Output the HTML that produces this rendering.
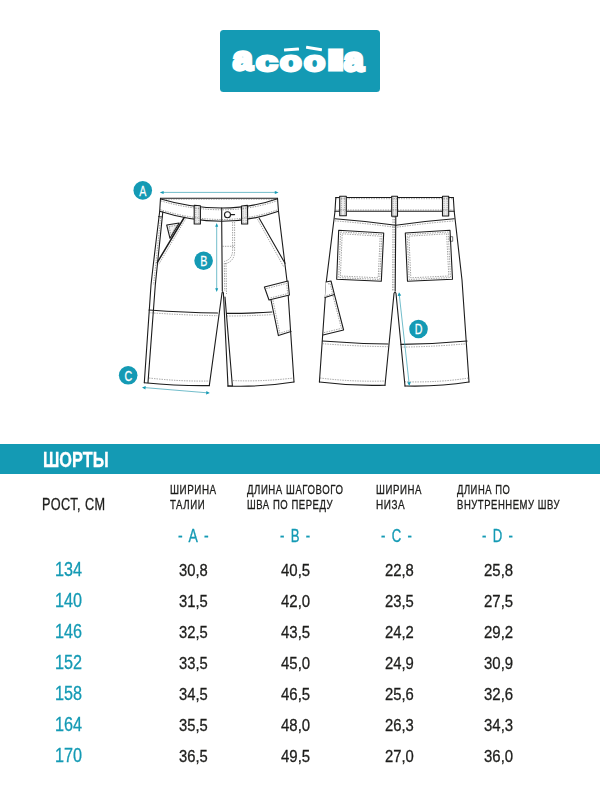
<!DOCTYPE html>
<html lang="ru">
<head>
<meta charset="utf-8">
<title>Шорты — таблица размеров</title>
<style>
html,body{margin:0;padding:0;background:#fff;}
body{width:600px;height:800px;position:relative;overflow:hidden;font-family:"Liberation Sans", sans-serif;color:#1d1d1b;}
.logo{position:absolute;left:220px;top:30px;width:160px;height:62px;background:#149ab4;border-radius:3.5px;}
.lw span{position:absolute;line-height:1;font-weight:700;font-size:33px;color:#fff;-webkit-text-stroke:3.5px #fff;transform-origin:0 0;}
.ac{position:absolute;background:#fff;border-radius:.4px;}
.ac1{left:284.2px;top:48.3px;width:15.3px;height:3.3px;transform:rotate(-3.6deg);}
.ac2{left:306.4px;top:46.7px;width:15.8px;height:3.1px;transform:rotate(9.5deg);}
.bar{position:absolute;left:0;top:444px;width:600px;height:29.5px;background:#149ab4;}
.t{position:absolute;white-space:nowrap;line-height:1;transform-origin:0 0;display:block;-webkit-text-stroke:0.3px currentColor;}
svg{position:absolute;left:0;top:0;}
.txt{position:absolute;left:0;top:0;width:600px;height:800px;will-change:transform;}
</style>
</head>
<body>
<div class="logo"></div><div class="lw"><span style="left:233.47px;top:42.44px;transform:scale(1.067,0.995)">a</span><span style="left:256.10px;top:46.53px;transform:scale(1.174,0.859)">c</span><span style="left:280.40px;top:46.94px;transform:scale(1.067,0.845)">o</span><span style="left:303.90px;top:46.94px;transform:scale(1.048,0.845)">o</span><span style="left:327.23px;top:47.34px;transform:scale(1.875,0.832)">l</span><span style="left:344.27px;top:43.01px;transform:scale(1.067,0.986)">a</span></div><i class="ac ac1"></i><i class="ac ac2"></i>
<div class="bar"></div>
<svg width="600" height="800" viewBox="0 0 600 800">
<g fill="none" stroke="#1c1c1c" stroke-width="1.1" stroke-linejoin="round" stroke-linecap="round">
<!-- FRONT -->
<path d="M160.5,198.3 L277.5,198.3"/>
<path d="M160.8,199 C182,205.4 204,208 221.7,208 S258,205.6 277.5,198.7"/>
<path d="M159.7,211.3 C182,218.4 204,221.3 221.7,221.3 S258,218.6 278.5,211.3"/>
<path d="M160.5,198.3 L159.7,211.3 Q153.5,262 151,285 L144.3,382.7"/>
<path d="M162.8,211.9 L155.3,285 L148,382.6"/>
<path d="M158.4,216.6 L162.3,216.9" stroke-width="0.8"/>
<path d="M277.5,198.3 L278.5,211.3 L287.5,285 L294,382"/>
<path d="M144.3,382.7 Q178,386 209.3,385.6"/>
<path d="M209.3,385.6 L222,293 Q222.6,290.5 223.4,293 L228,386"/>
<path d="M225,297 L232.4,386 L228,386"/>
<path d="M228,386 Q262,387.2 294,382"/>
<path d="M149,310 Q185,312.5 217.5,313"/>
<path d="M226.5,313.4 Q250,313.4 272,312"/>
<path d="M221.7,208 L221.7,221.3 L222.3,291"/>
<circle cx="227.5" cy="214.7" r="3"/>
<path d="M230.8,214.6 L234.6,214.6"/>
<path d="M184.2,217.5 L157.2,262.6" stroke-width="1.5"/>
<path d="M259.2,218.3 L285,263.3"/>
<path d="M166.7,225 L179.2,223 L170,238.3 Z" fill="#f3f3f3"/>
<path d="M194.2,205.2 L200.4,205.8 L200.4,224 L194.2,224 Z" fill="#ececec"/>
<path d="M241.5,206 L247.5,205.4 L247.7,224 L241.6,224 Z" fill="#ececec"/>
<path d="M264.4,287 L288,281 L289.4,295 L269,300 Z" fill="#fff"/>
<path d="M271,300 L278.4,335.6 L291,331.6"/>
<!-- BACK -->
<path d="M335.8,197.5 L453.3,197.5"/>
<path d="M335,211.3 L454.2,211.3"/>
<path d="M335.8,197.5 L335,211.3 L326.5,280 L319.4,382"/>
<path d="M453.3,197.5 L454.2,211.3 L462,280 L469,382"/>
<path d="M335,218.7 Q365,221 395.8,225.2 Q425,221 454.2,218.7"/>
<path d="M395.8,216 L395.2,291"/>
<path d="M338.7,230.3 L383.7,233 L381.3,281.3 L336.7,279.2 Z"/>
<path d="M405.3,233 L450,230.3 L452.5,279.2 L407.5,281.3 Z"/>
<rect x="450.3" y="236.7" width="2.4" height="4.6" stroke-width="0.6"/>
<path d="M339.7,196.3 L346.3,196.3 L346.3,215.8 L339.7,215.8 Z" fill="#ececec"/>
<path d="M391.7,196.3 L397.5,196.3 L397.5,216.3 L391.7,216.3 Z" fill="#ececec"/>
<path d="M442.5,196.3 L448.7,196.3 L448.7,216 L442.5,216 Z" fill="#ececec"/>
<path d="M326,282 L331,281 L334.4,294.4 L325,297.6" fill="#fff"/>
<path d="M334.4,294.4 L343.6,330 L323,335"/>
<path d="M322.4,341 Q355,343.5 388,344"/>
<path d="M401,344.4 Q435,344 467,341"/>
<path d="M319.4,382 Q352,386.2 385,385.2"/>
<path d="M405,386 Q440,386.8 469,382"/>
<path d="M385,385.2 L394,293.5 Q395,290.5 396,293.5 L405,386"/>
</g>
<!-- stitching -->
<g fill="none" stroke="#555" stroke-width="0.55" stroke-dasharray="1.4 1.1">
<path d="M160.8,199.2 L277.3,199.2"/>
<path d="M161,200.9 C182,207.2 204,209.8 221.7,209.8 S258,207.4 277.6,200.6"/>
<path d="M160.2,209.6 C182,216.6 204,219.5 221.7,219.5 S258,216.8 278.2,209.6"/>
<path d="M149,312.7 Q185,315.2 217.3,315.7"/>
<path d="M226.7,316 Q250,316 272.4,314.6"/>
<path d="M149,378 Q180,381.6 209.8,381"/>
<path d="M233,380.6 Q262,381.8 293.6,378"/>
<path d="M232.6,222 L232.6,250 Q232.6,259.5 224,261.5"/>
<path d="M234.6,222 L234.6,251 Q234.6,262 224.4,263.8"/>
<path d="M222.4,246.3 L234.6,246.3"/>
<path d="M224.3,263 L224.8,291"/>
<path d="M226,263 L226.5,294"/>
<path d="M186,218.3 L158.8,264.2"/>
<path d="M169,226.6 L176.6,225.4 L171,234.8 Z"/>
<path d="M257.5,219.2 L283.6,266.6"/>
<path d="M160.6,217.5 L153.6,285"/>
<path d="M266.3,288.6 L286.6,283.4 L287.7,293.6 L270.2,298"/>
<path d="M273,300.5 L279.8,333.2 L290.6,329.8"/>
<path d="M336,198.7 L453.2,198.7"/>
<path d="M335.2,210 L454,210"/>
<path d="M335,220.9 Q365,223.2 395.8,227.4 Q425,223.2 454.4,220.9"/>
<path d="M393,216.5 L392.6,291"/>
<path d="M394.4,216.5 L394,291"/>
<path d="M340.6,232 L381.9,234.6 L379.7,279.5 L338.7,277.6 Z"/>
<path d="M342.2,233.8 L380.2,236.2 L378.2,277.8 L340.4,276 Z"/>
<path d="M407.2,234.6 L448.2,232 L450.5,277.6 L409.2,279.5 Z"/>
<path d="M408.9,236.2 L446.6,233.8 L448.8,276 L410.8,277.8 Z"/>
<path d="M322.4,343.7 Q355,346.2 388,346.7"/>
<path d="M401,347.1 Q435,346.7 467,343.7"/>
<path d="M320,378 Q352,382 385.4,381"/>
<path d="M404.6,381.8 Q440,382.6 468.6,378"/>
<path d="M328,284 L330,283.4 L332.6,293.4 L326.5,295.6"/>
<path d="M333,296 L341.4,328.4 L324,332.6"/>
</g>
<g fill="none" stroke="#666" stroke-width="0.6" stroke-dasharray="0.8 1.1">
<path d="M195.8,206.5 L195.8,223.3 M198.8,206.8 L198.8,223.3"/>
<path d="M243.1,207 L243.2,223.3 M246,206.8 L246.1,223.3"/>
<path d="M341.4,197.5 L341.4,215 M344.6,197.5 L344.6,215"/>
<path d="M393.2,197.5 L393.2,215.5 M396,197.5 L396,215.5"/>
<path d="M444.1,197.5 L444.1,215.2 M447.1,197.5 L447.1,215.2"/>
</g>
<!-- measurement arrows -->
<g fill="none" stroke="#35a0b4" stroke-width="0.7">
<path d="M161.5,192.4 L277,192.4"/>
<path d="M216.7,225 L216.7,290"/>
<path d="M143.5,387.5 L208.2,392.9"/>
<path d="M399.2,294 L409.2,384.2"/>
</g>
<g fill="#149ab4" stroke="none">
<path d="M159.8,192.4 L163.6,190.9 L163.6,193.9 Z"/>
<path d="M278.6,192.4 L274.8,190.9 L274.8,193.9 Z"/>
<path d="M216.7,223 L215.2,226.8 L218.2,226.8 Z"/>
<path d="M216.7,292 L215.2,288.2 L218.2,288.2 Z"/>
<path d="M142,387.4 L145.7,385.9 L145.4,389.5 Z"/>
<path d="M209.8,393 L206.1,394.5 L206.4,390.9 Z"/>
<path d="M399,292.2 L397.6,296 L401.2,295.6 Z"/>
<path d="M409.4,385.8 L407.2,382.4 L410.8,382 Z"/>
<circle cx="142.75" cy="190.4" r="9.3"/>
<circle cx="203.6" cy="260.75" r="9.3"/>
<circle cx="128.15" cy="375.3" r="9.3"/>
<circle cx="418.5" cy="329" r="9.3"/>
</g>
<g font-family="Liberation Sans, sans-serif" font-size="14.6" fill="#fff" stroke="#fff" stroke-width="0.25" text-anchor="middle">
<text x="0" y="0" transform="translate(142.8,195.6) scale(0.73,1)">A</text>
<text x="0" y="0" transform="translate(203.7,266) scale(0.73,1)">B</text>
<text x="0" y="0" transform="translate(128.3,380.5) scale(0.73,1)">C</text>
<text x="0" y="0" transform="translate(418.7,334.2) scale(0.73,1)">D</text>
</g>
</svg>

<div class="txt">
<span class="t" style="left:43.21px;top:448.50px;font-size:22px;transform:scaleX(0.7403);color:#fff;font-weight:700;">ШОРТЫ</span>
<span class="t" style="left:42.36px;top:496.20px;font-size:16.4px;transform:scaleX(0.7747);letter-spacing:0.6px;">РОСТ, СМ</span>
<span class="t" style="left:169.97px;top:484.30px;font-size:12.2px;transform:scaleX(0.8062);letter-spacing:0.7px;">ШИРИНА</span>
<span class="t" style="left:169.97px;top:499.20px;font-size:12.2px;transform:scaleX(0.7896);letter-spacing:0.7px;">ТАЛИИ</span>
<span class="t" style="left:246.87px;top:484.30px;font-size:12.2px;transform:scaleX(0.7883);letter-spacing:0.7px;">ДЛИНА ШАГОВОГО</span>
<span class="t" style="left:246.87px;top:499.20px;font-size:12.2px;transform:scaleX(0.7807);letter-spacing:0.7px;">ШВА ПО ПЕРЕДУ</span>
<span class="t" style="left:375.67px;top:484.30px;font-size:12.2px;transform:scaleX(0.7923);letter-spacing:0.7px;">ШИРИНА</span>
<span class="t" style="left:375.67px;top:499.20px;font-size:12.2px;transform:scaleX(0.8151);letter-spacing:0.7px;">НИЗА</span>
<span class="t" style="left:456.97px;top:484.30px;font-size:12.2px;transform:scaleX(0.7705);letter-spacing:0.7px;">ДЛИНА ПО</span>
<span class="t" style="left:456.97px;top:499.20px;font-size:12.2px;transform:scaleX(0.7787);letter-spacing:0.7px;">ВНУТРЕННЕМУ ШВУ</span>
<span class="t" style="left:178.22px;top:527.90px;font-size:17.6px;transform:scaleX(0.7935);color:#149ab4;word-spacing:3.6px;">- A -</span>
<span class="t" style="left:279.72px;top:527.90px;font-size:17.6px;transform:scaleX(0.7481);color:#149ab4;word-spacing:3.6px;">- B -</span>
<span class="t" style="left:381.22px;top:527.90px;font-size:17.6px;transform:scaleX(0.7475);color:#149ab4;word-spacing:3.6px;">- C -</span>
<span class="t" style="left:482.22px;top:527.90px;font-size:17.6px;transform:scaleX(0.7475);color:#149ab4;word-spacing:3.6px;">- D -</span>
<span class="t" style="left:55.07px;top:559.80px;font-size:19.5px;transform:scaleX(0.8312);color:#149ab4;">134</span>
<span class="t" style="left:179.04px;top:561.80px;font-size:17.0px;transform:scaleX(0.8678);">30,8</span>
<span class="t" style="left:280.84px;top:561.80px;font-size:17.0px;transform:scaleX(0.8799);">40,5</span>
<span class="t" style="left:384.74px;top:561.80px;font-size:17.0px;transform:scaleX(0.8708);">22,8</span>
<span class="t" style="left:484.04px;top:561.80px;font-size:17.0px;transform:scaleX(0.8799);">25,8</span>
<span class="t" style="left:55.07px;top:590.90px;font-size:19.5px;transform:scaleX(0.8312);color:#149ab4;">140</span>
<span class="t" style="left:179.04px;top:592.90px;font-size:17.0px;transform:scaleX(0.8678);">31,5</span>
<span class="t" style="left:280.84px;top:592.90px;font-size:17.0px;transform:scaleX(0.8799);">42,0</span>
<span class="t" style="left:384.74px;top:592.90px;font-size:17.0px;transform:scaleX(0.8708);">23,5</span>
<span class="t" style="left:484.04px;top:592.90px;font-size:17.0px;transform:scaleX(0.8799);">27,5</span>
<span class="t" style="left:55.07px;top:622.00px;font-size:19.5px;transform:scaleX(0.8312);color:#149ab4;">146</span>
<span class="t" style="left:179.04px;top:624.00px;font-size:17.0px;transform:scaleX(0.8678);">32,5</span>
<span class="t" style="left:280.84px;top:624.00px;font-size:17.0px;transform:scaleX(0.8799);">43,5</span>
<span class="t" style="left:384.74px;top:624.00px;font-size:17.0px;transform:scaleX(0.8708);">24,2</span>
<span class="t" style="left:484.04px;top:624.00px;font-size:17.0px;transform:scaleX(0.8799);">29,2</span>
<span class="t" style="left:55.07px;top:653.10px;font-size:19.5px;transform:scaleX(0.8312);color:#149ab4;">152</span>
<span class="t" style="left:179.04px;top:655.10px;font-size:17.0px;transform:scaleX(0.8678);">33,5</span>
<span class="t" style="left:280.84px;top:655.10px;font-size:17.0px;transform:scaleX(0.8799);">45,0</span>
<span class="t" style="left:384.74px;top:655.10px;font-size:17.0px;transform:scaleX(0.8708);">24,9</span>
<span class="t" style="left:484.04px;top:655.10px;font-size:17.0px;transform:scaleX(0.8799);">30,9</span>
<span class="t" style="left:55.07px;top:684.20px;font-size:19.5px;transform:scaleX(0.8312);color:#149ab4;">158</span>
<span class="t" style="left:179.04px;top:686.20px;font-size:17.0px;transform:scaleX(0.8678);">34,5</span>
<span class="t" style="left:280.84px;top:686.20px;font-size:17.0px;transform:scaleX(0.8799);">46,5</span>
<span class="t" style="left:384.74px;top:686.20px;font-size:17.0px;transform:scaleX(0.8708);">25,6</span>
<span class="t" style="left:484.04px;top:686.20px;font-size:17.0px;transform:scaleX(0.8799);">32,6</span>
<span class="t" style="left:55.07px;top:715.30px;font-size:19.5px;transform:scaleX(0.8312);color:#149ab4;">164</span>
<span class="t" style="left:179.04px;top:717.30px;font-size:17.0px;transform:scaleX(0.8678);">35,5</span>
<span class="t" style="left:280.84px;top:717.30px;font-size:17.0px;transform:scaleX(0.8799);">48,0</span>
<span class="t" style="left:384.74px;top:717.30px;font-size:17.0px;transform:scaleX(0.8708);">26,3</span>
<span class="t" style="left:484.04px;top:717.30px;font-size:17.0px;transform:scaleX(0.8799);">34,3</span>
<span class="t" style="left:55.07px;top:746.40px;font-size:19.5px;transform:scaleX(0.8312);color:#149ab4;">170</span>
<span class="t" style="left:179.04px;top:748.40px;font-size:17.0px;transform:scaleX(0.8678);">36,5</span>
<span class="t" style="left:280.84px;top:748.40px;font-size:17.0px;transform:scaleX(0.8799);">49,5</span>
<span class="t" style="left:384.74px;top:748.40px;font-size:17.0px;transform:scaleX(0.8708);">27,0</span>
<span class="t" style="left:484.04px;top:748.40px;font-size:17.0px;transform:scaleX(0.8799);">36,0</span>
</div>
</body>
</html>
